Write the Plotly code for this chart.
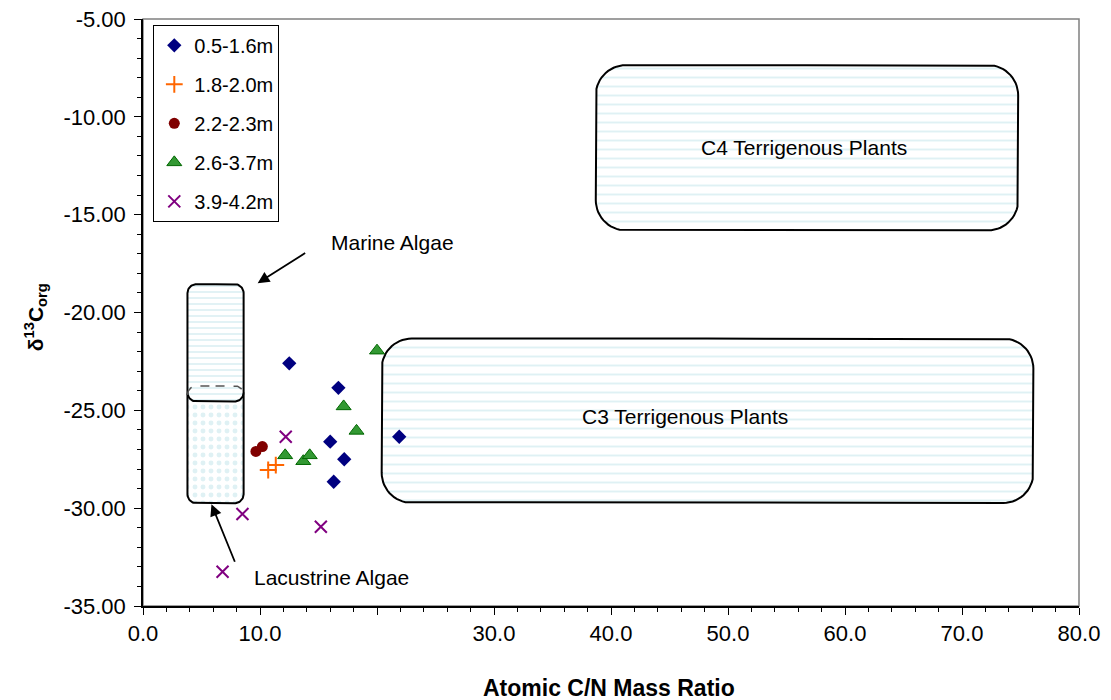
import numpy as np
import plotly.graph_objects as go

# ---------------- data ----------------
SERIES_NAMES = ["0.5-1.6m", "1.8-2.0m", "2.2-2.3m", "2.6-3.7m", "3.9-4.2m"]

CN_05_16 = [12.5, 16.7, 16.0, 17.2, 16.3, 21.9]
D13C_05_16 = [-22.6, -23.85, -26.6, -27.5, -28.65, -26.35]

CN_18_20 = [10.7, 11.35]
D13C_18_20 = [-28.05, -27.8]

CN_22_23 = [9.65, 10.2]
D13C_22_23 = [-27.1, -26.85]

CN_26_37 = [12.15, 13.7, 14.25, 17.15, 18.25, 20.0]
D13C_26_37 = [-27.3, -27.6, -27.3, -24.8, -26.05, -21.95]

CN_39_42 = [12.2, 8.5, 15.2, 6.8]
D13C_39_42 = [-26.35, -30.3, -30.95, -33.25]

X_TICK_VALUES = [0, 10, 20, 30, 40, 50, 60, 70, 80]
X_TICK_LABELS = ["0.0", "10.0", "", "30.0", "40.0", "50.0", "60.0", "70.0", "80.0"]
Y_TICK_VALUES = [-35, -30, -25, -20, -15, -10, -5]
Y_TICK_LABELS = ["-35.00", "-30.00", "-25.00", "-20.00", "-15.00", "-10.00", "-5.00"]

X_TITLE = "<b>Atomic C/N Mass Ratio</b>"
Y_TITLE = "<b>δ<sup>13</sup>C<sub>org</sub></b>"

REGION_NAMES = ["Lacustrine Algae", "Marine Algae", "C3 Terrigenous Plants", "C4 Terrigenous Plants"]
REGION_X0 = [3.8, 3.8, 20.4, 38.7]
REGION_X1 = [8.6, 8.6, 76.1, 74.8]
REGION_YTOP = [-23.75, -18.55, -21.33, -7.36]
REGION_YBOT = [-29.75, -24.55, -29.73, -15.8]

X_RANGE = [0, 80]
Y_RANGE = [-35, -5]

# ---------------- layout geometry ----------------
W, H = 1111, 700
ML, MR, MT, MB = 143, 32, 19, 94
PX_X = (W - ML - MR) / (X_RANGE[1] - X_RANGE[0])
PX_Y = (H - MT - MB) / (Y_RANGE[1] - Y_RANGE[0])


def rounded_rect(x0, x1, y0, y1, r):
    rx, ry = r / PX_X, r / PX_Y
    xs, ys = [], []
    xm = (x0 + x1) / 2
    xs.append(xm); ys.append(y1)

    def arc(cx, cy, a0, a1):
        t = np.linspace(np.radians(a0), np.radians(a1), 16)
        xs.extend(cx + rx * np.cos(t)); ys.extend(cy + ry * np.sin(t))

    arc(x1 - rx, y1 - ry, 90, 0)
    arc(x1 - rx, y0 + ry, 0, -90)
    arc(x0 + rx, y0 + ry, -90, -180)
    arc(x0 + rx, y1 - ry, 180, 90)
    xs.append(xm); ys.append(y1)
    return list(xs), list(ys)


fig = go.Figure()

FILL_COLOR = "#bfe4e9"
radii = [9, 9, 30, 30]
patterns = [
    dict(shape=".", fgcolor=FILL_COLOR, bgcolor="white", size=8, solidity=0.3),
    dict(shape="-", fgcolor=FILL_COLOR, bgcolor="white", size=6, solidity=0.3),
    dict(shape="-", fgcolor=FILL_COLOR, bgcolor="white", size=9, solidity=0.22),
    dict(shape="-", fgcolor=FILL_COLOR, bgcolor="white", size=9, solidity=0.22),
]
for i, name in enumerate(REGION_NAMES):
    xs, ys = rounded_rect(REGION_X0[i], REGION_X1[i], REGION_YBOT[i], REGION_YTOP[i], radii[i])
    fig.add_trace(go.Scatter(
        x=xs, y=ys, mode="lines", fill="toself", fillpattern=patterns[i],
        fillcolor="white",
        line=dict(color="black", width=2), showlegend=False, hoverinfo="skip"))

# dashed top edge of the lacustrine region (visible through marine region)
lx, ly = rounded_rect(REGION_X0[0], REGION_X1[0], REGION_YBOT[0], REGION_YTOP[0], radii[0])
dx, dy = [], []
prev = False
for xv, yv in zip(lx, ly):
    inside = yv > REGION_YBOT[1] + 0.05
    if inside:
        dx.append(xv); dy.append(yv)
    elif prev:
        dx.append(None); dy.append(None)
    prev = inside
fig.add_trace(go.Scatter(x=dx, y=dy, mode="lines", line=dict(color="#555555", width=1.5, dash="dash"),
                         showlegend=False, hoverinfo="skip", connectgaps=False))

series = [
    (CN_05_16, D13C_05_16, dict(symbol="diamond", size=11, color="#000080")),
    (CN_18_20, D13C_18_20, dict(symbol="cross-thin", size=12, color="#ff6600",
                                line=dict(color="#ff6600", width=2))),
    (CN_22_23, D13C_22_23, dict(symbol="circle", size=11, color="#800000")),
    (CN_26_37, D13C_26_37, dict(symbol="triangle-up", size=13, color="#339933",
                                line=dict(color="#006600", width=1))),
    (CN_39_42, D13C_39_42, dict(symbol="x-thin", size=12, color="#800080",
                                line=dict(color="#800080", width=2))),
]
for name, (xs, ys, mk) in zip(SERIES_NAMES, series):
    fig.add_trace(go.Scatter(x=xs, y=ys, mode="markers", name=name, marker=mk,
                             legendgroup=name))

FONT = "Liberation Sans, Arial, sans-serif"
AFONT = dict(size=21, color="black", family=FONT)

annotations = [
    dict(x=56.5, y=-11.55, text="C4 Terrigenous Plants", showarrow=False, font=AFONT),
    dict(x=46.3, y=-25.3, text="C3 Terrigenous Plants", showarrow=False, font=AFONT),
    dict(x=21.3, y=-16.4, text="Marine Algae", showarrow=False, font=AFONT),
    dict(x=16.15, y=-33.55, text="Lacustrine Algae", showarrow=False, font=AFONT),
    # arrows
    dict(x=9.8, y=-18.5, ax=49, ay=-31, text="", showarrow=True, arrowhead=2,
         arrowsize=1.3, arrowwidth=1.8, arrowcolor="black", standoff=0),
    dict(x=5.85, y=-29.8, ax=24, ay=59, text="", showarrow=True, arrowhead=2,
         arrowsize=1.3, arrowwidth=1.8, arrowcolor="black", standoff=0),
    # axis titles
    dict(xref="paper", yref="paper", x=0.498, y=-0.1397, text=X_TITLE, showarrow=False,
         xanchor="center", yanchor="middle", font=dict(size=23, family=FONT, color="black")),
    dict(xref="paper", yref="paper", x=-0.1154, y=0.492, text=Y_TITLE, showarrow=False,
         textangle=-90, xanchor="center", yanchor="middle",
         font=dict(size=21, family=FONT, color="black")),
]

fig.update_layout(
    width=W, height=H,
    margin=dict(l=ML, r=MR, t=MT, b=MB, pad=0),
    paper_bgcolor="white", plot_bgcolor="white",
    font=dict(family=FONT, color="black", size=20),
    annotations=annotations,
    legend=dict(x=0.011, y=0.99, xanchor="left", yanchor="top",
                bordercolor="black", borderwidth=1, bgcolor="white",
                font=dict(size=20, family=FONT), traceorder="grouped",
                tracegroupgap=10, itemwidth=30),
    shapes=[dict(type="rect", xref="paper", yref="paper", x0=0, x1=1, y0=0, y1=1,
                 line=dict(color="#808080", width=1.5), layer="below")],
)

fig.update_xaxes(
    range=X_RANGE, tickvals=X_TICK_VALUES, ticktext=X_TICK_LABELS, automargin=False,
    showgrid=False, zeroline=False, showline=True, linecolor="black", linewidth=1.5,
    ticks="outside", ticklen=7, tickwidth=1.2, tickcolor="black",
    tickfont=dict(size=22, family=FONT),
    minor=dict(dtick=2, ticks="outside", ticklen=4, tickcolor="black", tickwidth=1),
)
fig.update_yaxes(
    range=Y_RANGE, tickvals=Y_TICK_VALUES, ticktext=Y_TICK_LABELS, automargin=False,
    showgrid=False, zeroline=False, showline=True, linecolor="black", linewidth=1.5,
    ticks="outside", ticklen=7, tickwidth=1.2, tickcolor="black",
    tickfont=dict(size=22, family=FONT), ticklabelstandoff=4,
    minor=dict(dtick=1, ticks="outside", ticklen=4, tickcolor="black", tickwidth=1),
)

fig.write_html("out.html")
